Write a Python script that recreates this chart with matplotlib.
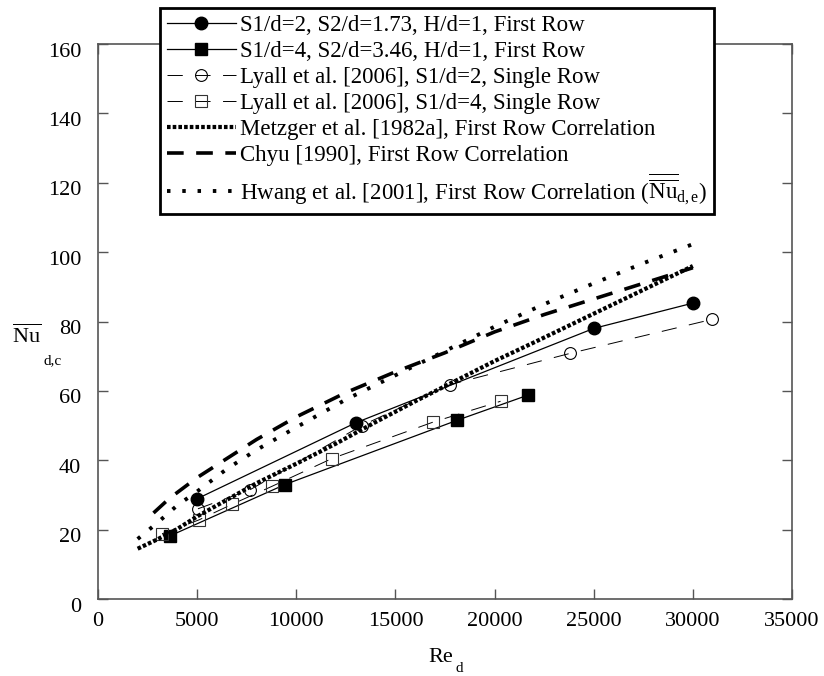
import numpy as np
import matplotlib
matplotlib.use('Agg')
import matplotlib.pyplot as plt
import matplotlib.transforms as mtransforms

plt.rcParams['font.family'] = ['Liberation Serif', 'DejaVu Serif']
plt.rcParams['mathtext.fontset'] = 'custom'
plt.rcParams['mathtext.rm'] = 'Liberation Serif'
plt.rcParams['mathtext.it'] = 'Liberation Serif:italic'
plt.rcParams['lines.scale_dashes'] = False

# present data, first row
re_s2 = [5000, 13000, 25000, 30000]
nu_s2 = [28.9, 50.8, 78.0, 85.3]
re_s4 = [3630, 9430, 18100, 21700]
nu_s4 = [18.2, 33.0, 51.5, 58.8]

# Lyall et al. [2006], single row
re_ly2 = [5040, 7670, 13300, 17750, 23800, 30960]
nu_ly2 = [26.0, 31.5, 50.0, 61.8, 70.8, 80.6]
re_ly4 = [3230, 5090, 6760, 8780, 11800, 16900, 20300]
nu_ly4 = [18.8, 22.8, 27.3, 32.5, 40.5, 51.0, 57.0]

# correlations
re_metz = [2000, 3000, 4000, 5000, 6500, 8000, 10000, 12000, 14000, 16000,
           18000, 20000, 22000, 24000, 26000, 28000, 30000]
nu_metz = [14.5, 17.2, 20.2, 23.8, 28.6, 33.4, 39.0, 44.8, 51.0, 57.0,
           62.8, 68.6, 74.0, 79.5, 85.0, 90.5, 96.0]
re_chyu = [2800, 3600, 5000, 6500, 8000, 10000, 12500, 15000, 17500, 20000,
           22500, 25000, 27500, 30000]
nu_chyu = [24.8, 29.0, 35.0, 40.5, 46.0, 52.5, 59.5, 65.5, 71.0, 77.0,
           82.0, 86.5, 91.0, 95.5]
re_hwang = [2000, 3000, 4000, 5000, 6500, 8000, 10000, 12500, 15000, 17500,
            20000, 22500, 25000, 27500, 30000]
nu_hwang = [17.3, 22.0, 27.0, 31.0, 37.5, 43.0, 49.5, 57.5, 64.5, 71.5,
            78.5, 85.0, 91.0, 96.8, 102.3]

fig = plt.figure(figsize=(8.24, 6.76), dpi=100)
ax = fig.add_axes([98/824, 1-599/676, 694/824, 555/676])

ax.plot(re_s2, nu_s2, '-', color='black', lw=0.9, marker='o', ms=9,
        mfc='black', mec='black',
        label='S1/d=2, S2/d=1.73, H/d=1, First Row')
ax.plot(re_s4, nu_s4, '-', color='black', lw=0.9, marker='s', ms=9,
        mfc='black', mec='black',
        label='S1/d=4, S2/d=3.46, H/d=1, First Row')
ax.plot(re_ly2, nu_ly2, color='black', lw=0.7, ls=(0, (11, 9)), marker='o',
        ms=8.5, mfc='none', mec='black', mew=0.8,
        label='Lyall et al. [2006], S1/d=2, Single Row')
ax.plot(re_ly4, nu_ly4, color='black', lw=0.7, ls=(0, (11, 9)), marker='s',
        ms=8.5, mfc='none', mec='#333333', mew=0.8,
        label='Lyall et al. [2006], S1/d=4, Single Row')
ax.plot(re_metz, nu_metz, color='black', lw=3.0, ls=(0, (2.6, 1.5)),
        solid_capstyle='butt', dash_capstyle='butt',
        label='Metzger et al. [1982a], First Row Correlation')
ax.plot(re_chyu, nu_chyu, color='black', lw=2.6, ls=(0, (12, 9)),
        dash_capstyle='butt',
        label='Chyu [1990], First Row Correlation')
ax.plot(re_hwang, nu_hwang, color='black', lw=2.8, ls=(0, (2.5, 8.5)),
        dash_capstyle='butt',
        label=r'Hwang et al. [2001], First Row Correlation ($\overline{\overline{\mathrm{Nu}}}_{\mathrm{d,e}}$)')

ax.set_xlim(0, 35000)
ax.set_ylim(0, 160)
ax.set_xticks(np.arange(0, 35001, 5000))
ax.set_yticks(np.arange(0, 161, 20))
ax.tick_params(direction='in', length=7, width=1, color='#555555',
               labelsize=16, top=True, right=True)
ax.tick_params(axis='x', pad=9)
ax.tick_params(axis='y', pad=12)
for s in ax.spines.values():
    s.set_color('#555555')
    s.set_linewidth(1.2)

# y tick labels sit a little below their ticks in the original
shift = mtransforms.ScaledTranslation(0, -4/72, fig.dpi_scale_trans)
for lbl in ax.get_yticklabels():
    lbl.set_transform(lbl.get_transform() + shift)

# axis labels, subscripts dropped low as in the original
fig.text(428/824, 1-662/676, 'Re', fontsize=16, ha='left', va='baseline')
fig.text(455/824, 1-672/676, 'd', fontsize=11, ha='left', va='baseline')
fig.text(12/824, 1-343/676, r'$\overline{\mathrm{Nu}}$', fontsize=16,
         ha='left', va='baseline')
fig.text(43/824, 1-364/676, 'd,c', fontsize=11, ha='left', va='baseline')

leg = fig.legend(loc='upper left', bbox_to_anchor=(160/824, 1-8/676),
                 fontsize=16.5, frameon=True, fancybox=False, framealpha=1,
                 edgecolor='black', handlelength=3.0, handletextpad=0.2,
                 borderpad=0.3, labelspacing=0.22, numpoints=1,
                 borderaxespad=0)
leg.get_frame().set_linewidth(2)

fig.savefig('out.png', dpi=100)
